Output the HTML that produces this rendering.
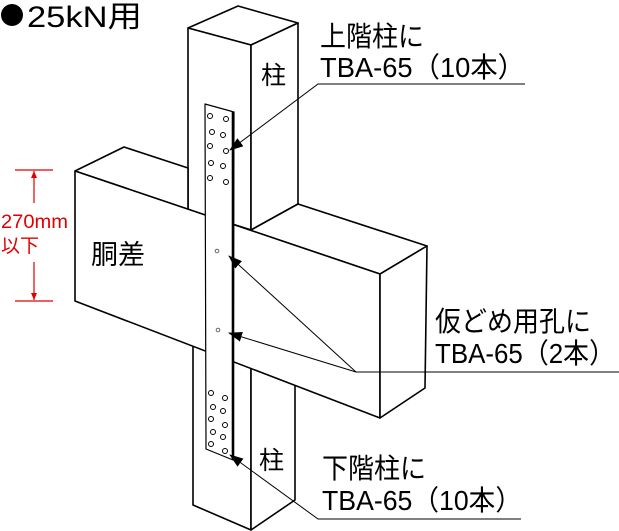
<!DOCTYPE html>
<html><head><meta charset="utf-8"><style>
html,body{margin:0;padding:0;background:#fff;width:619px;height:531px;overflow:hidden}
text{font-family:"Liberation Sans","Noto Sans CJK JP",sans-serif;fill:#000}
</style></head><body>
<svg width="619" height="531" viewBox="0 0 619 531" xmlns="http://www.w3.org/2000/svg">
<defs><marker id="a" markerWidth="14" markerHeight="10" refX="13" refY="5" orient="auto" markerUnits="userSpaceOnUse"><path d="M0,0 L14,5 L0,10 z" fill="#000"/></marker></defs>
<g fill="#fff" stroke="#000" stroke-width="1.6" stroke-linejoin="round">
<polygon points="188,28 238,6 298,23 251,45"/>
<polygon points="188,28 251,45 251,230 188,210"/>
<polygon points="251,45 298,23 298,204 251,230"/>
<polygon points="193,340 251,365 251,530 193,505"/>
<polygon points="251,365 295,350 295,500 251,530"/>
<polygon points="75,171 124,147 188,168 188,210 251,230 298,204 427,246 380,274"/>
<polygon points="75,171 380,274 380,418 75,301"/>
<polygon points="380,274 427,246 425,388 380,418"/>
<polygon points="205,104 234,112 233,460 206,449" stroke-width="1.2"/>
</g>
<line x1="233" y1="112" x2="233" y2="460" stroke="#000" stroke-width="2.6"/>
<g fill="none" stroke="#000" stroke-width="1">
<circle cx="210" cy="116" r="2.5"/><circle cx="226" cy="119" r="2.5"/>
<circle cx="212" cy="132" r="2.5"/><circle cx="223" cy="135" r="2.5"/>
<circle cx="210" cy="146" r="2.5"/><circle cx="226" cy="151" r="2.5"/>
<circle cx="211" cy="163" r="2.5"/><circle cx="223" cy="166" r="2.5"/>
<circle cx="210" cy="178" r="2.5"/><circle cx="226" cy="182" r="2.5"/>
<circle cx="211" cy="393" r="2.5"/><circle cx="225" cy="398" r="2.5"/>
<circle cx="213" cy="407" r="2.5"/><circle cx="223" cy="411" r="2.5"/>
<circle cx="211" cy="419" r="2.5"/><circle cx="225" cy="425" r="2.5"/>
<circle cx="213" cy="432" r="2.5"/><circle cx="223" cy="437" r="2.5"/>
<circle cx="211" cy="444" r="2.5"/><circle cx="225" cy="451" r="2.5"/>
<circle cx="217" cy="251" r="1.8" stroke="#666"/><circle cx="218" cy="330" r="1.8" stroke="#666"/>
</g>
<g fill="none" stroke="#000" stroke-width="1">
<polyline points="525,84 318,84 230,150" marker-end="url(#a)"/>
<polyline points="619,372 356,372 229,256" marker-end="url(#a)"/>
<line x1="356" y1="372" x2="229" y2="333" marker-end="url(#a)"/>
<polyline points="521,519 318,519 230,455" marker-end="url(#a)"/>
</g>
<g stroke="#e00000" stroke-width="1.2" fill="#e00000">
<line x1="15" y1="170" x2="53" y2="170"/><line x1="15" y1="301" x2="53" y2="301"/>
<line x1="34" y1="171" x2="34" y2="203"/><line x1="34" y1="262" x2="34" y2="300"/>
<path d="M31,178 L34,171 L37,178 z" stroke="none"/><path d="M31,293 L34,300 L37,293 z" stroke="none"/>
</g>
<text x="1" y="228" font-size="19" textLength="67" lengthAdjust="spacingAndGlyphs" style="fill:#e00000">270mm</text>
<text x="1" y="252" font-size="19" style="fill:#e00000">以下</text>
<circle cx="12" cy="15" r="11" fill="#000"/>
<text x="27" y="27" font-size="30" textLength="115" lengthAdjust="spacingAndGlyphs">25kN用</text>
<text x="261" y="84" font-size="25">柱</text>
<text x="259" y="469" font-size="25">柱</text>
<text x="91" y="264" font-size="27">胴差</text>
<text x="320" y="46" font-size="28" textLength="104" lengthAdjust="spacingAndGlyphs">上階柱に</text>
<text x="320" y="77" font-size="28" textLength="205" lengthAdjust="spacingAndGlyphs">TBA-65（10本）</text>
<text x="435" y="331" font-size="28" textLength="156" lengthAdjust="spacingAndGlyphs">仮どめ用孔に</text>
<text x="435" y="363" font-size="28" textLength="180" lengthAdjust="spacingAndGlyphs">TBA-65（2本）</text>
<text x="322" y="478" font-size="28" textLength="104" lengthAdjust="spacingAndGlyphs">下階柱に</text>
<text x="322" y="510" font-size="28" textLength="200" lengthAdjust="spacingAndGlyphs">TBA-65（10本）</text>
</svg>
</body></html>
